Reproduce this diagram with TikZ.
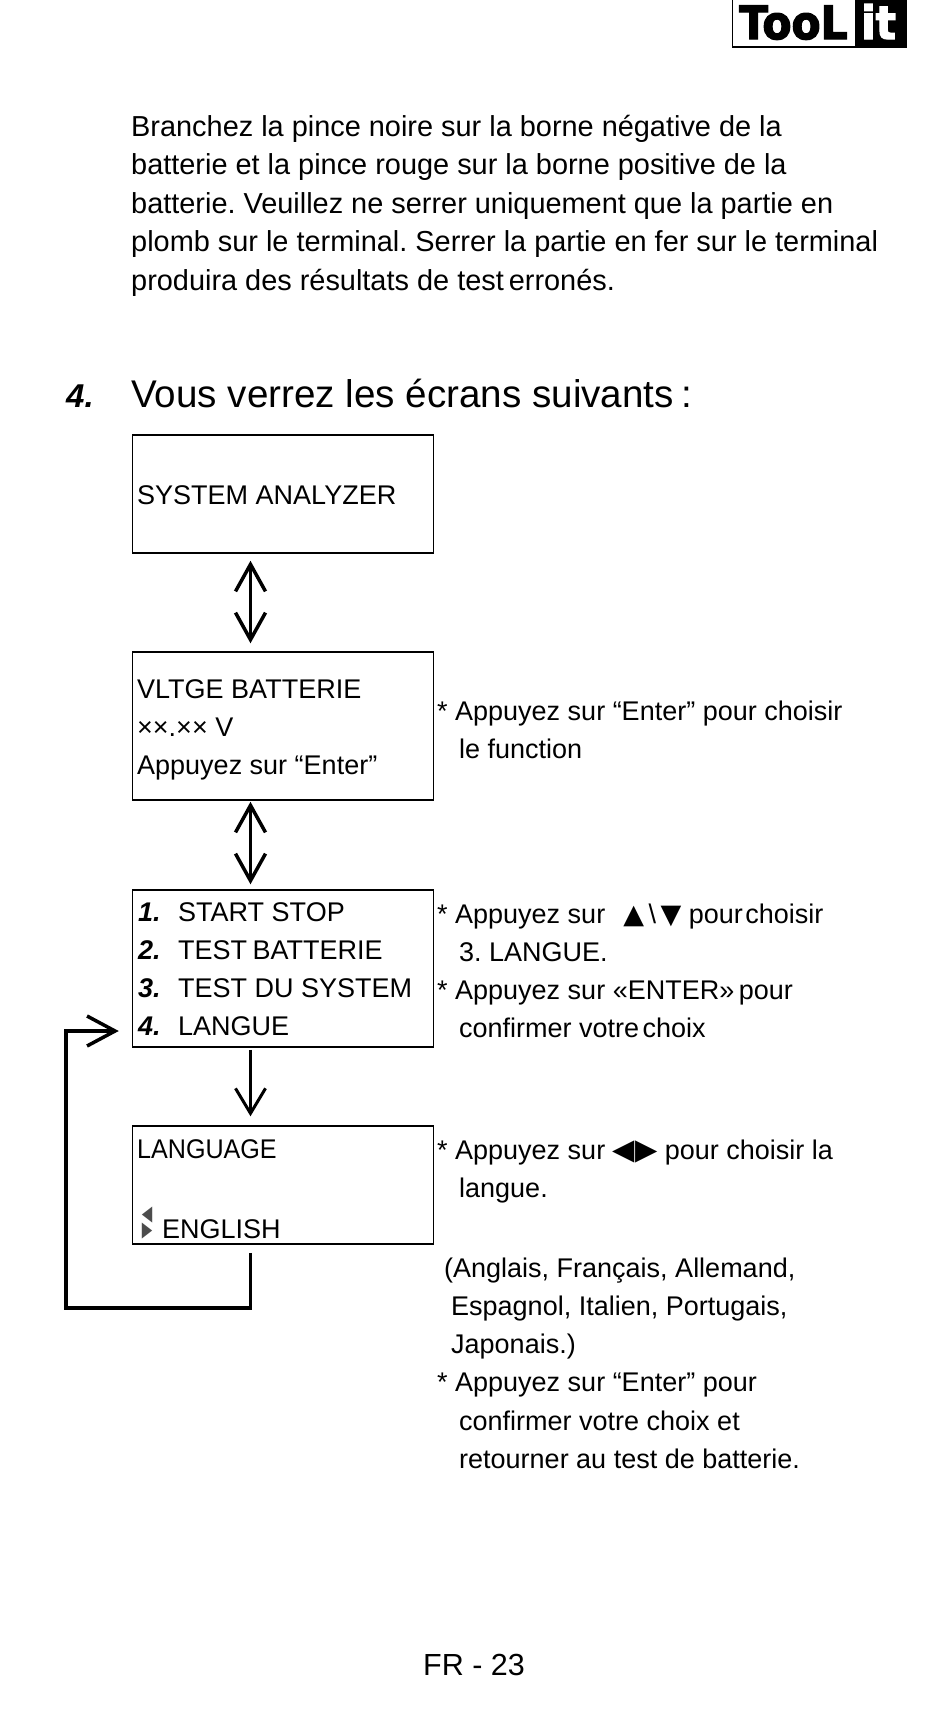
\documentclass[tikz,border=0pt]{standalone}
\usepackage{fontspec}
\setmainfont{Liberation Sans}
\newfontfamily\symfont{DejaVu Sans}
\newfontfamily\logofont[FakeBold=3]{DejaVu Sans Bold}
\usetikzlibrary{arrows.meta, positioning}
\frenchspacing

\begin{document}
\begin{tikzpicture}[
  x=1pt, y=-1pt,
  screen/.style={draw, line width=1.5pt, minimum width=301pt, inner sep=0pt},
  txt/.style={anchor=north west, inner sep=0pt, align=left, font=\fontsize{27}{38.3}\selectfont},
  intro/.style={anchor=north west, inner sep=0pt, align=left, font=\fontsize{28.9}{38.5}\selectfont},
  logotxt/.style={anchor=base west, inner sep=0pt, xscale=0.92, transform shape, font=\logofont\fontsize{46}{46}\selectfont},
  tri/.style={inner sep=0pt, text=black!70, xscale=0.65, transform shape, font=\symfont\fontsize{21}{21}\selectfont},
  arr/.style={line width=3.5pt, {Straight Barb[length=27pt,width=30pt,line width=3.5pt]}-{Straight Barb[length=27pt,width=30pt,line width=3.5pt]}},
  down/.style={line width=2.5pt, -{Straight Barb[length=25pt,width=30pt,line width=3pt]}, shorten <=2pt, shorten >=9pt},
  back/.style={line width=3.5pt, -{Straight Barb[length=28pt,width=30pt,line width=3.5pt]}, shorten >=13pt}
]
\useasboundingbox (0,0) rectangle (950,1714);

% logo
\node[draw, line width=1.5pt, minimum width=174pt, minimum height=60pt, inner sep=0pt] (logo) at (819.5,17) {};
\fill (855,-13) rectangle (907,47);
\node[logotxt] (tool) at (739,39) {TooL};
\node[logotxt, text=white] (it) at (861,39) {it};

% text
\node[intro] (para) at (131,109) {\strut Branchez la pince noire sur la borne négative de la\\
\strut batterie et la pince rouge sur la borne positive de la\\
\strut batterie. Veuillez ne serrer uniquement que la partie en\\
\strut plomb sur le terminal. Serrer la partie en fer sur le terminal\\
\strut produira des résultats de test \kern-3pt erronés.};
\node[anchor=base west, inner sep=0pt, font=\fontsize{33}{38}\bfseries\itshape\selectfont] (num) at (66,407) {4.};
\node[anchor=base west, inner sep=0pt, font=\fontsize{38.6}{38}\selectfont] (head) at (131,407) {Vous verrez les écrans suivants \kern-3pt:};

% screens
\node[screen, minimum height=118pt] (system) at (283,494) {};
\node[screen, minimum height=148pt] (voltage) at (283,726) {};
\node[screen, minimum height=157pt] (menu) at (283,968.5) {};
\node[screen, minimum height=118pt] (language) at (283,1185) {};

\node[txt] (systemtxt) at (137,477) {\strut SYSTEM ANALYZER};
\node[txt] (voltagetxt) at (137,671) {\strut VLTGE BATTERIE\\ \strut ××.×× V\\ \strut Appuyez sur “Enter”};
\node[txt] (menunum) at (138,894) {\strut\textbf{\textit{1.}}\\ \strut\textbf{\textit{2.}}\\ \strut\textbf{\textit{3.}}\\ \strut\textbf{\textit{4.}}};
\node[txt] (menutxt) at (178,894) {\strut START STOP\\ \strut TEST \kern-2pt BATTERIE\\ \strut TEST DU SYSTEM\\ \strut LANGUE};
\node[txt, xscale=0.93, transform shape] (languagetxt) at (137,1131) {\strut LANGUAGE};
\node[txt] (english) at (162,1211) {\strut ENGLISH};
\node[tri] (left) at (147,1215) {◀};
\node[tri] (right) at (147,1231) {▶};

% notes
\node[txt] (noteone) at (437,693) {\strut * Appuyez sur “Enter” pour choisir\\ \strut\hspace{22pt}le function};
\node[txt] (notetwo) at (437,896) {\strut * Appuyez sur\hspace{18pt}{\symfont ▲}\,\textbackslash\,{\symfont ▼} pour \kern-5pt choisir\\ \strut\hspace{22pt}3. LANGUE.\\ \strut * Appuyez sur «ENTER» \kern-3pt pour\\ \strut\hspace{22pt}confirmer votre \kern-4pt choix};
\node[txt] (notethree) at (437,1132) {\strut * Appuyez sur {\symfont\fontsize{29}{38}\selectfont ◀▶} pour choisir la\\ \strut\hspace{22pt}langue.};
\node[txt] (notefour) at (437,1250) {\strut\hspace{7pt}(Anglais, Français, Allemand,\\ \strut\hspace{14pt}Espagnol, Italien, Portugais,\\ \strut\hspace{14pt}Japonais.)\\ \strut * Appuyez sur “Enter” pour\\ \strut\hspace{22pt}confirmer votre choix et\\ \strut\hspace{22pt}retourner au test de batterie.};

\node[anchor=base west, inner sep=0pt, font=\fontsize{30.5}{38}\selectfont] (page) at (423,1675) {FR - 23};

% connectors
\draw[arr, shorten <=7pt, shorten >=8pt] ([xshift=-32.5pt]system.south) -- ([xshift=-32.5pt]voltage.north);
\draw[arr, shorten <=1pt, shorten >=5pt] ([xshift=-32.5pt]voltage.south) -- ([xshift=-32.5pt]menu.north);
\draw[down] ([xshift=-32.5pt]menu.south) -- ([xshift=-32.5pt]language.north);
\coordinate (turn) at (66,1308);
\draw[back] ([xshift=-32.5pt,yshift=-8pt]language.south) |- (turn) |- ([yshift=-62.5pt]menu.west);
\end{tikzpicture}
\end{document}
